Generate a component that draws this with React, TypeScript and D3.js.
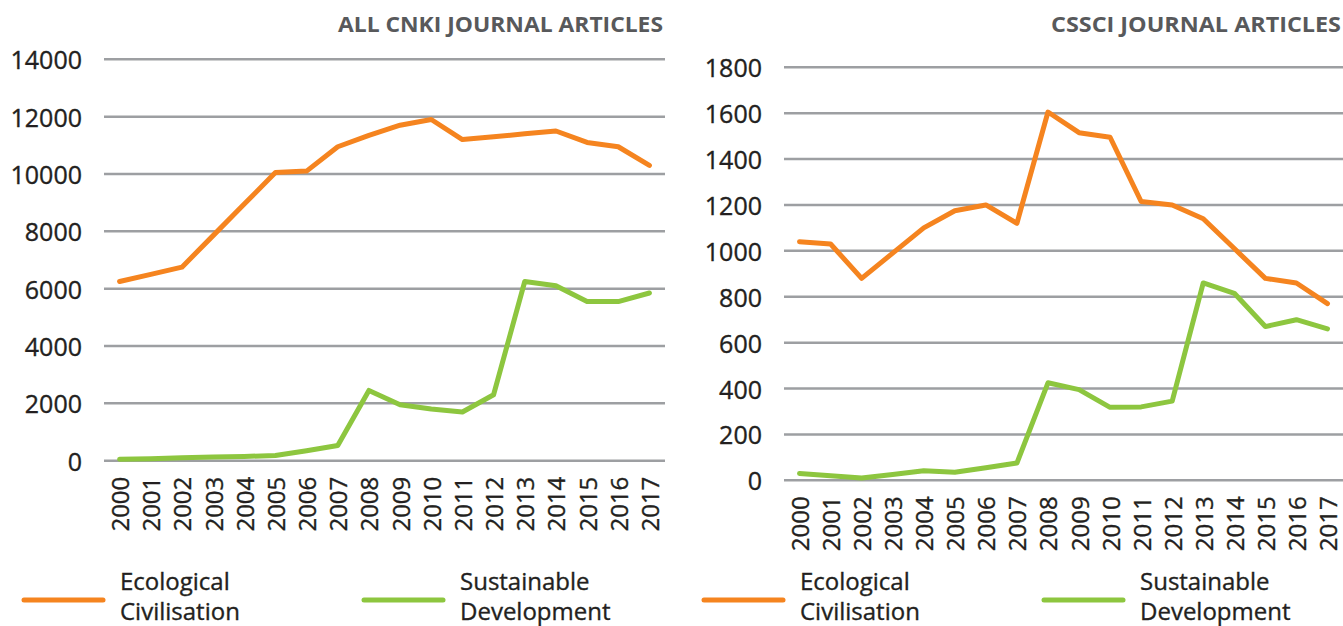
import * as d3 from "d3";

// years on the x axis
const years = ["2000", "2001", "2002", "2003", "2004", "2005", "2006", "2007", "2008", "2009",
  "2010", "2011", "2012", "2013", "2014", "2015", "2016", "2017"];

// all CNKI journal articles
const cnkiEcological = [6250, 6500, 6750, 7850, 8950, 10050, 10100, 10950, 11350, 11700,
  11900, 11200, 11300, 11400, 11500, 11100, 10950, 10300];
const cnkiSustainable = [50, 70, 100, 130, 150, 180, 350, 530, 2450, 1950,
  1800, 1700, 2300, 6250, 6100, 5550, 5550, 5850];
const cnkiTicks = [0, 2000, 4000, 6000, 8000, 10000, 12000, 14000];

// CSSCI journal articles
const cssciEcological = [1040, 1030, 880, 990, 1100, 1175, 1200, 1120, 1605, 1515,
  1495, 1215, 1200, 1140, 1010, 880, 860, 770];
const cssciSustainable = [30, 20, 10, 25, 42, 35, 55, 75, 425, 395,
  318, 320, 345, 860, 815, 670, 700, 660];
const cssciTicks = [0, 200, 400, 600, 800, 1000, 1200, 1400, 1600, 1800];

const seriesNames = [["Ecological", "Civilisation"], ["Sustainable", "Development"]];
const colors = ["#f5841f", "#8dc63f"];

const font = "'Open Sans', sans-serif";
const ink = "#231f20";

type PanelProps = {
  title: string;
  titleWidth: number;
  left: number;
  right: number;
  top: number;
  bottom: number;
  maxY: number;
  ticks: number[];
  series: number[][];
};

function Panel(p: PanelProps) {
  const x = d3.scaleBand().domain(years).range([p.left, p.right]).padding(0);
  const y = d3.scaleLinear().domain([0, p.maxY]).range([p.bottom, p.top]);
  const cx = (d: string) => (x(d) ?? 0) + x.bandwidth() / 2;

  const line = d3.line<number>()
    .x((_, i) => cx(years[i]))
    .y(d => y(d));

  // slightly heavier text, like the original
  const textStyle = { fontFamily: font, fill: ink, stroke: ink, strokeWidth: 0.35 };

  return (
    <g>
      <text x={p.right - 2} y={32} textAnchor="end" fontFamily={font} fontWeight={700}
        fontSize={22} fill="#58595b" textLength={p.titleWidth} lengthAdjust="spacingAndGlyphs">
        {p.title}
      </text>
      {p.ticks.map(t => (
        <g key={t}>
          <line x1={p.left} x2={p.right} y1={y(t)} y2={y(t)} stroke="#9d9fa2" strokeWidth={2.5} />
          <text x={p.left - 22} y={y(t)} textAnchor="end" dominantBaseline="central"
            fontSize={25} style={textStyle}>{t}</text>
        </g>
      ))}
      {years.map(yr => (
        <text key={yr} transform={`translate(${cx(yr)},${p.bottom + 16}) rotate(-90)`}
          textAnchor="end" dominantBaseline="central" fontSize={24}
          style={textStyle}>{yr}</text>
      ))}
      {p.series.map((s, i) => (
        <path key={i} d={line(s) ?? ""} fill="none" stroke={colors[i]} strokeWidth={5}
          strokeLinejoin="round" strokeLinecap="round" />
      ))}
      {seriesNames.map((names, i) => {
        const lx = p.left - 80 + i * 340;
        return (
          <g key={i}>
            <line x1={lx} x2={lx + 79} y1={600} y2={600} stroke={colors[i]} strokeWidth={5}
              strokeLinecap="round" />
            <text x={lx + 96} y={590} fontSize={24} style={textStyle}>{names[0]}</text>
            <text x={lx + 96} y={620} fontSize={24} style={textStyle}>{names[1]}</text>
          </g>
        );
      })}
    </g>
  );
}

export default function App() {
  return (
    <svg width={1343} height={626} style={{ position: "absolute", left: 0, top: 0, background: "#fff" }}>
      <Panel title="ALL CNKI JOURNAL ARTICLES" titleWidth={325} left={104} right={665}
        top={59.3} bottom={460.7} maxY={14000} ticks={cnkiTicks}
        series={[cnkiEcological, cnkiSustainable]} />
      <Panel title="CSSCI JOURNAL ARTICLES" titleWidth={290} left={784} right={1343}
        top={67.3} bottom={480.3} maxY={1800} ticks={cssciTicks}
        series={[cssciEcological, cssciSustainable]} />
    </svg>
  );
}
